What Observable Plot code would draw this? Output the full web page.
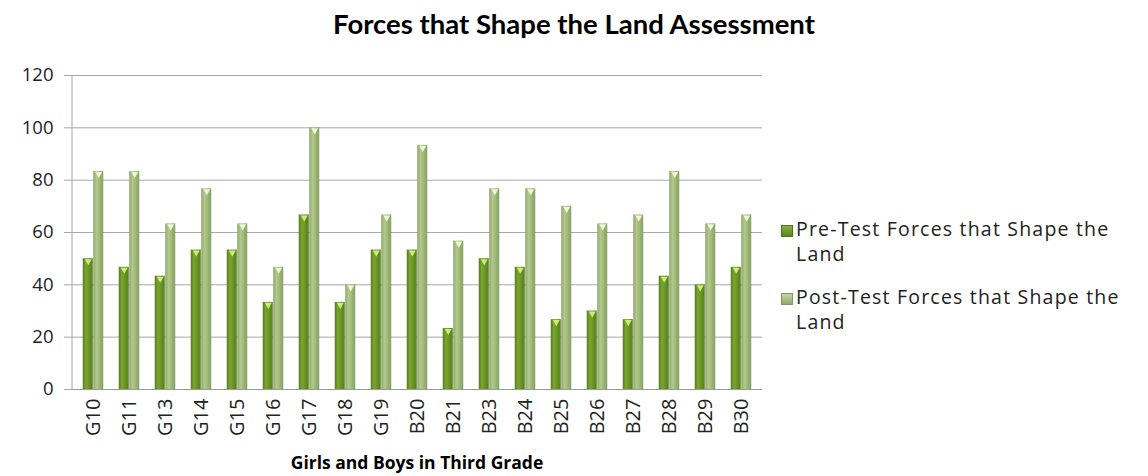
<!DOCTYPE html>
<html><head><meta charset="utf-8">
<script src="https://cdn.jsdelivr.net/npm/d3@7"></script>
<script src="https://cdn.jsdelivr.net/npm/@observablehq/plot@0.6"></script>
<style>
body{margin:0;background:#fff;font-family:"Open Sans",Lato,sans-serif;color:#000;}
#wrap{position:relative;width:1148px;height:476px;overflow:hidden;}
#title{position:absolute;left:0;width:1148px;top:7px;text-align:center;font-weight:bold;font-size:27.5px;font-family:Lato,sans-serif;}
#chart{position:absolute;left:0;top:50px;}
#xtitle{position:absolute;top:450px;left:72px;width:690px;text-align:center;font-weight:bold;font-size:17.5px;font-family:"Open Sans",sans-serif;}
#legend{position:absolute;left:781px;top:216px;font-size:19.5px;letter-spacing:1.2px;color:#222;}
.item{position:relative;padding-left:15px;line-height:25px;width:370px;margin-bottom:18px;white-space:nowrap;}
.sw{position:absolute;left:0;top:9px;width:10px;height:10px;}
</style>
</head><body>
<div id="wrap">
<div id="title">Forces that Shape the Land Assessment</div>
<div id="chart"></div>
<div id="xtitle">Girls and Boys in Third Grade</div>
<div id="legend"></div>
</div>
<script>
const students = ["G10","G11","G13","G14","G15","G16","G17","G18","G19","B20","B21","B23","B24","B25","B26","B27","B28","B29","B30"];
const preTest  = [50,46.7,43.3,53.3,53.3,33.3,66.7,33.3,53.3,53.3,23.3,50,46.7,26.7,30,26.7,43.3,40,46.7];
const postTest = [83.3,83.3,63.3,76.7,63.3,46.7,100,40,66.7,93.3,56.7,76.7,76.7,70,63.3,66.7,83.3,63.3,66.7];
const seriesNames = ["Pre-Test Forces that Shape the Land","Post-Test Forces that Shape the Land"];
const yTicks = [0,20,40,60,80,100,120];

const preRows = students.map((s,i)=>({student:s, value:preTest[i]}));
const postRows = students.map((s,i)=>({student:s, value:postTest[i]}));

const W = 1148, H = 426;
const plot = Plot.plot({
  width: W, height: H,
  marginLeft: 72, marginRight: W-762, marginTop: 25, marginBottom: 87,
  style: {fontFamily: "'Open Sans', Lato, sans-serif", fontSize: "18px", color: "#222", background: "#fff"},
  x: {domain: students, paddingInner: 0.711, paddingOuter: 0.3555, label: null},
  y: {domain: [0,120], label: null},
  marks: [
    Plot.gridY(yTicks, {stroke: "#a6a6a6", strokeOpacity: 1}),
    Plot.axisY(yTicks, {tickSize: 8, tickPadding: 11, stroke: "#a6a6a6", fill: "#222", label: null, fontSize: 18.5}),
    Plot.axisX({tickSize: 0, tickRotate: -90, tickPadding: 9, fill: "#222", label: null, fontSize: 20}),
    Plot.ruleY([0], {stroke: "#999"}),
    Plot.barY(preRows, {x: "student", y: "value", dx: -5.25, fill: "url(#gPre)"}),
    Plot.barY(postRows, {x: "student", y: "value", dx: 5.25, fill: "url(#gPost)"}),
    Plot.dot(preRows, {x: "student", y: "value", dx: -5.25, dy: 2.5, symbol: "triangle", rotate: 180, r: 2.6, fill: "#c9ec7a", stroke: "none"}),
    Plot.dot(postRows, {x: "student", y: "value", dx: 5.25, dy: 2.5, symbol: "triangle", rotate: 180, r: 2.6, fill: "#eef7d8", stroke: "none"})
  ]
});
document.getElementById("chart").appendChild(plot);

const svg = d3.select(plot);
const defs = svg.insert("defs", ":first-child");
function grad(id, stops){
  const g = defs.append("linearGradient").attr("id", id).attr("x1","0").attr("x2","1").attr("y1","0").attr("y2","0");
  stops.forEach(([o,c])=>g.append("stop").attr("offset",o).attr("stop-color",c));
}
grad("gPre", [[0,"#557a1c"],[0.3,"#78a52e"],[0.55,"#6f9a28"],[1,"#557a1e"]]);
grad("gPost", [[0,"#8aa465"],[0.3,"#b2ca8b"],[0.55,"#a5bd7e"],[1,"#85a062"]]);

// vertical y-axis line, from the library's own scales
const xr = plot.scale("x").range, yr = plot.scale("y").range;
svg.append("line").attr("x1", xr[0]).attr("x2", xr[0]).attr("y1", yr[0]).attr("y2", yr[1]).attr("stroke", "#a6a6a6");

const leg = d3.select("#legend");
seriesNames.forEach((n,i)=>{
  const it = leg.append("div").attr("class","item");
  it.append("div").attr("class","sw").style("background", i===0 ? "linear-gradient(#86b33a,#5a8520)" : "linear-gradient(#c3d8a0,#90a96c)").style("border","1px solid " + (i===0?"#4f7218":"#7f9860"));
  it.append("span").html(n.replace(" Land", "<br>Land"));
});
</script>
</body></html>
